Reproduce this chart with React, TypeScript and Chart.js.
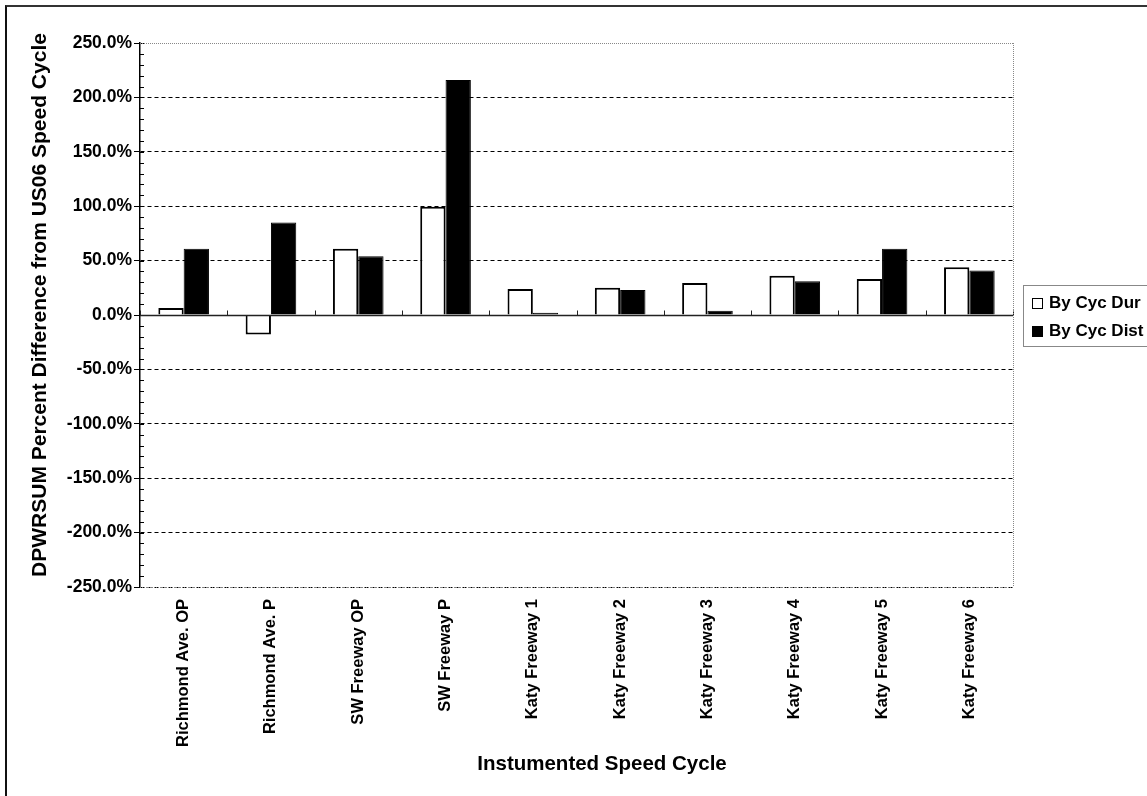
import React, { useEffect, useRef } from "react";
import { Chart, registerables } from "chart.js";

Chart.register(...registerables);

const categories = [
  "Richmond Ave. OP",
  "Richmond Ave. P",
  "SW Freeway OP",
  "SW Freeway P",
  "Katy Freeway 1",
  "Katy Freeway 2",
  "Katy Freeway 3",
  "Katy Freeway 4",
  "Katy Freeway 5",
  "Katy Freeway 6",
];
const byCycDur = [6.5, -18, 61, 99.5, 24, 25, 29.5, 36, 33, 44];
const byCycDist = [61, 85, 54, 216, 2, 23, 4, 31, 61, 41];
const seriesNames = ["By Cyc Dur", "By Cyc Dist"];
const yTitle = "DPWRSUM Percent Difference from US06 Speed Cycle";
const xTitle = "Instumented Speed Cycle";

const FONT = "'Liberation Sans', Arial, sans-serif";

const extras = {
  id: "extras",
  afterDraw(chart: any) {
    const y = chart.scales.y;
    const area = chart.chartArea;
    const ctx = chart.ctx;
    ctx.save();
    ctx.strokeStyle = "#000";
    ctx.lineWidth = 1;
    for (let v = -250; v <= 250; v += 10) {
      const py = Math.round(y.getPixelForValue(v)) + 0.5;
      ctx.beginPath();
      ctx.moveTo(area.left, py);
      ctx.lineTo(area.left + 4, py);
      ctx.stroke();
    }
    const zy = Math.round(y.getPixelForValue(0)) + 0.5;
    ctx.lineWidth = 1.5;
    ctx.strokeStyle = "#222";
    ctx.beginPath();
    ctx.moveTo(area.left, zy);
    ctx.lineTo(area.right, zy);
    ctx.stroke();
    const n = categories.length;
    ctx.lineWidth = 1;
    for (let i = 0; i <= n; i++) {
      const px = Math.round(area.left + ((area.right - area.left) * i) / n) + 0.5;
      ctx.beginPath();
      ctx.moveTo(px, zy);
      ctx.lineTo(px, zy - 5);
      ctx.stroke();
    }
    ctx.strokeStyle = "#888";
    ctx.setLineDash([1, 1]);
    ctx.beginPath();
    ctx.moveTo(area.left, area.top + 0.5);
    ctx.lineTo(area.right, area.top + 0.5);
    ctx.moveTo(area.right + 0.5, area.top);
    ctx.lineTo(area.right + 0.5, area.bottom);
    ctx.moveTo(area.left, area.bottom + 0.5);
    ctx.lineTo(area.right, area.bottom + 0.5);
    ctx.stroke();
    ctx.restore();
  },
};

export default function App() {
  const ref = useRef<HTMLCanvasElement>(null);
  useEffect(() => {
    if (!ref.current) return;
    const chart = new Chart(ref.current, {
      type: "bar",
      data: {
        labels: categories,
        datasets: [
          {
            label: seriesNames[0],
            data: byCycDur,
            backgroundColor: "#ffffff",
            borderColor: "#000000",
            borderWidth: 2,
            barPercentage: 1,
            categoryPercentage: 0.58,
          },
          {
            label: seriesNames[1],
            data: byCycDist,
            backgroundColor: "#000000",
            borderColor: "#000000",
            borderWidth: 1,
            barPercentage: 1,
            categoryPercentage: 0.58,
          },
        ],
      },
      plugins: [extras],
      options: {
        animation: false,
        responsive: false,
        maintainAspectRatio: false,
        layout: { padding: { left: 10, right: 134, top: 43, bottom: 10 } },
        plugins: { legend: { display: false }, tooltip: { enabled: false } },
        scales: {
          x: {
            grid: { display: false, drawTicks: false },
            border: { display: false },
            ticks: {
              color: "#000",
              font: { family: FONT, size: 16.5, weight: "bold" },
              minRotation: 90,
              maxRotation: 90,
              autoSkip: false,
              padding: 12,
            },
            afterFit(scale: any) {
              scale.height = 199;
            },
          },
          y: {
            min: -250,
            max: 250,
            ticks: {
              stepSize: 50,
              color: "#000",
              font: { family: FONT, size: 17.5, weight: "bold" },
              padding: 2,
              callback: (v: any) => Number(v).toFixed(1) + "%",
            },
            grid: {
              color: (c: any) => (c.tick && c.tick.value === 250 ? "rgba(0,0,0,0)" : "#000"),
              lineWidth: 1,
              drawTicks: true,
              tickLength: 6,
              tickColor: "#000",
              tickBorderDash: [],
            },
            border: { display: true, color: "#000", width: 1.5, dash: [4, 3] },
            afterFit(scale: any) {
              scale.width = 130;
            },
          },
        },
      },
    } as any);
    return () => chart.destroy();
  }, []);

  return (
    <div style={{ position: "fixed", left: 0, top: 0, width: 1147, height: 796, background: "#fff", overflow: "hidden" }}>
      <canvas ref={ref} width={1147} height={796} style={{ position: "absolute", left: 0, top: 0 }} />
      <div
        style={{
          position: "absolute",
          left: 5,
          top: 5,
          width: 1142,
          height: 791,
          borderLeft: "2.5px solid #111",
          borderTop: "2px solid #333",
          boxSizing: "border-box",
          pointerEvents: "none",
        }}
      />
      <div
        style={{
          position: "absolute",
          left: 39,
          top: 305,
          transform: "translate(-50%, -50%) rotate(-90deg)",
          whiteSpace: "nowrap",
          fontFamily: FONT,
          fontWeight: "bold",
          fontSize: 21,
          lineHeight: "24px",
          color: "#000",
        }}
      >
        {yTitle}
      </div>
      <div
        style={{
          position: "absolute",
          left: 602,
          top: 763,
          transform: "translate(-50%, -50%)",
          whiteSpace: "nowrap",
          fontFamily: FONT,
          fontWeight: "bold",
          fontSize: 20.5,
          lineHeight: "24px",
          color: "#000",
        }}
      >
        {xTitle}
      </div>
      <div
        style={{
          position: "absolute",
          left: 1023,
          top: 285,
          width: 130,
          height: 62,
          border: "1px solid #888",
          boxSizing: "border-box",
          fontFamily: FONT,
          fontWeight: "bold",
          fontSize: 17,
          color: "#000",
        }}
      >
        {seriesNames.map((name, i) => (
          <div
            key={name}
            style={{ display: "flex", alignItems: "center", position: "absolute", left: 8, top: 6 + i * 28, height: 22 }}
          >
            <span
              style={{
                display: "inline-block",
                width: 9,
                height: 9,
                border: "1px solid #000",
                background: i === 0 ? "#fff" : "#000",
                marginRight: 6,
              }}
            />
            <span>{name}</span>
          </div>
        ))}
      </div>
    </div>
  );
}
